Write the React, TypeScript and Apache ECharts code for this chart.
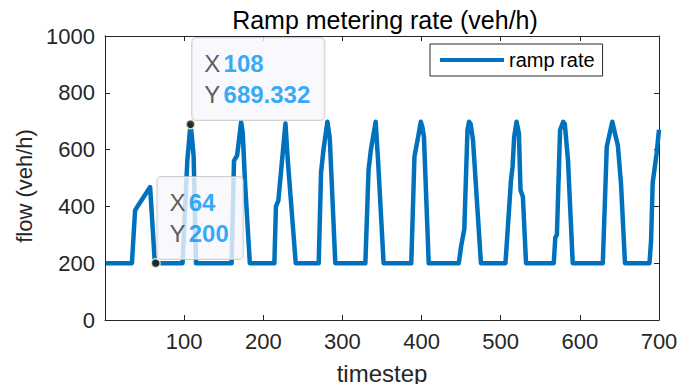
import React, { useEffect, useRef } from "react";
import * as echarts from "echarts";

const timesteps = [
  1, 34, 38, 40, 57, 63, 98, 104, 108, 110, 112, 115,
  160, 163, 167, 172, 174, 177, 183,
  214, 216, 219, 228, 231, 241,
  270, 273, 276, 281, 284, 291,
  329, 333, 336, 342, 345, 352,
  387, 391, 396, 399, 401, 403, 409,
  447, 450, 454, 458, 460, 462, 465, 475,
  506, 513, 515, 517, 520, 523, 525, 528, 532,
  567, 569, 571, 575, 579, 581, 585, 591,
  629, 634, 641, 645, 648, 652, 657,
  688, 690, 692, 697, 700,
];
const rampRate = [
  200, 200, 385, 395, 468, 200, 200, 560, 689.332, 640, 575, 200,
  200, 560, 580, 697, 660, 480, 200,
  200, 400, 420, 692, 560, 200,
  200, 520, 598, 698, 640, 200,
  200, 528, 600, 698, 563, 200,
  200, 575, 650, 698, 680, 645, 200,
  200, 260, 320, 669, 698, 690, 633, 200,
  200, 493, 540, 645, 698, 657, 458, 434, 200,
  200, 290, 300, 669, 698, 690, 563, 200,
  200, 610, 698, 650, 615, 480, 200,
  200, 280, 482, 587, 670,
];
const tipX = [108, 64];
const tipY = [689.332, 200];
const xTicks = { min: 0, max: 700, interval: 100 };
const yTicks = { min: 0, max: 1000, interval: 200 };

const FONT = "Liberation Sans, Arial, Helvetica, sans-serif";
const AXIS = "#262626";

export default function App() {
  const ref = useRef<HTMLDivElement>(null);
  useEffect(() => {
    if (!ref.current) return;
    const chart = echarts.init(ref.current, undefined, { renderer: "svg" });
    const axisCommon = {
      type: "value" as const,
      splitLine: { show: false },
      axisLine: { show: true, onZero: false, lineStyle: { color: AXIS, width: 1 } },
      axisTick: { show: true, inside: true, length: 5, lineStyle: { color: AXIS } },
    };
    chart.setOption({
      animation: false,
      backgroundColor: "#ffffff",
      textStyle: { fontFamily: FONT },
      title: {
        text: "Ramp metering rate (veh/h)",
        left: 380,
        textAlign: "center",
        top: 2,
        textStyle: { fontFamily: FONT, fontSize: 25, fontWeight: "normal", color: "#000" },
      },
      legend: {
        data: ["ramp rate"],
        left: 430,
        top: 44,
        padding: [6, 8, 6, 10],
        borderColor: AXIS,
        borderWidth: 1,
        backgroundColor: "#fff",
        itemWidth: 64,
        itemHeight: 4,
        icon: "rect",
        textStyle: { fontFamily: FONT, fontSize: 20, color: "#000" },
      },
      grid: { left: 105, right: 33, top: 36, bottom: 72 },
      xAxis: [
        {
          ...axisCommon,
          ...xTicks,
          position: "bottom",
          name: "timestep",
          nameLocation: "middle",
          nameGap: 41,
          nameTextStyle: { fontFamily: FONT, fontSize: 24, color: AXIS },
          axisLabel: { showMinLabel: false, fontFamily: FONT, fontSize: 22, color: AXIS, margin: 10 },
        },
        {
          ...axisCommon,
          ...xTicks,
          position: "top",
          axisLabel: { show: false },
        },
      ],
      yAxis: [
        {
          ...axisCommon,
          ...yTicks,
          position: "left",
          name: "flow (veh/h)",
          nameLocation: "middle",
          nameGap: 68,
          nameTextStyle: { fontFamily: FONT, fontSize: 22, color: AXIS, padding: [0, 16, 0, 0] },
          axisLabel: {
            fontFamily: FONT,
            fontSize: 22,
            color: AXIS,
            margin: 10,
            formatter: (v: number) => String(v),
          },
        },
        {
          ...axisCommon,
          ...yTicks,
          position: "right",
          axisLabel: { show: false },
        },
      ],
      series: [
        {
          name: "ramp rate",
          type: "line",
          xAxisIndex: 0,
          yAxisIndex: 0,
          data: timesteps.map((t, i) => [t, rampRate[i]]),
          showSymbol: false,
          symbol: "none",
          lineStyle: { color: "#0072BD", width: 4.5, join: "round" },
          itemStyle: { color: "#0072BD" },
        },
        {
          name: "tips",
          type: "scatter",
          xAxisIndex: 0,
          yAxisIndex: 0,
          data: tipX.map((x, i) => [x, tipY[i]]),
          symbolSize: 9,
          itemStyle: { color: "#1a1a1a", borderColor: "#ffffc8", borderWidth: 1.5 },
          z: 5,
          label: {
            show: true,
            position: [7, 1],
            align: "left",
            verticalAlign: "bottom",
            backgroundColor: "#f8f8fd",
            borderColor: "#c4c4c4",
            borderWidth: 1,
            borderRadius: 4,
            padding: [10, 14, 10, 12],
            formatter: (p: any) =>
              `{k|X} {v|${p.value[0]}}\n{k|Y} {v|${p.value[1]}}`,
            rich: {
              k: { fontFamily: FONT, fontSize: 24, color: "#333", lineHeight: 31 },
              v: { fontFamily: FONT, fontSize: 24, fontWeight: "bold", color: "#0094f5", lineHeight: 31 },
            },
          },
        },
      ],
    });
    return () => chart.dispose();
  }, []);
  return <div ref={ref} style={{ width: 692, height: 392, margin: -8 }} />;
}
